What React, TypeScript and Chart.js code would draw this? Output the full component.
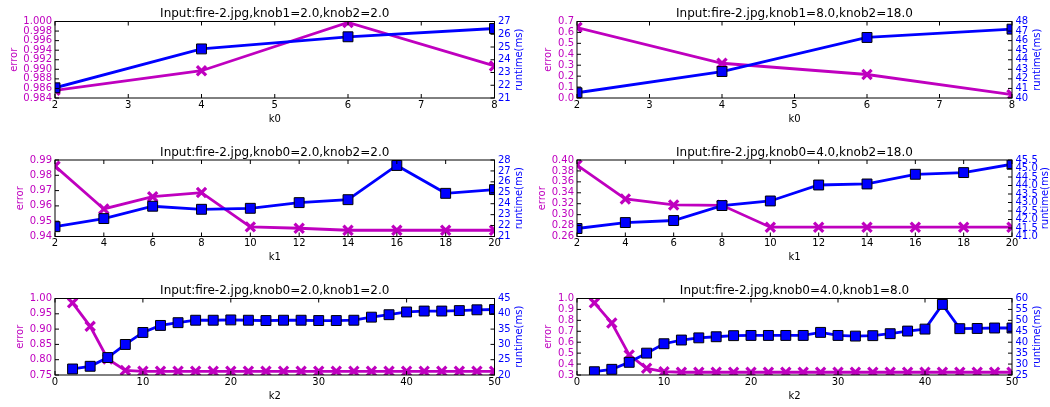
import React, { useEffect, useRef } from "react";
import { Chart, registerables } from "chart.js";

Chart.register(...registerables);

const FONT = "'DejaVu Sans', 'Liberation Sans', sans-serif";
const MAGENTA = "#bf00bf";
const BLUE = "#0000ff";

// ---------- data ----------
const panelTitles = [
  "Input:fire-2.jpg,knob1=2.0,knob2=2.0",
  "Input:fire-2.jpg,knob1=8.0,knob2=18.0",
  "Input:fire-2.jpg,knob0=2.0,knob2=2.0",
  "Input:fire-2.jpg,knob0=4.0,knob2=18.0",
  "Input:fire-2.jpg,knob0=2.0,knob1=2.0",
  "Input:fire-2.jpg,knob0=4.0,knob1=8.0",
];
const xTitles = ["k0", "k0", "k1", "k1", "k2", "k2"];
const errorLabel = "error";
const runtimeLabel = "runtime(ms)";

const k0Values = [2, 4, 6, 8];
const k1Values = [2, 4, 6, 8, 10, 12, 14, 16, 18, 20];
const k2Values = [2, 4, 6, 8, 10, 12, 14, 16, 18, 20, 22, 24, 26, 28, 30, 32, 34, 36, 38, 40, 42, 44, 46, 48, 50];

// panel 1: knob1=2, knob2=2 (vary k0)
const error1 = [0.9856, 0.9897, 0.9998, 0.9907];
const runtime1 = [21.8, 24.85, 25.8, 26.45];
// panel 2: knob1=8, knob2=18 (vary k0)
const error2 = [0.645, 0.318, 0.215, 0.03];
const runtime2 = [40.55, 42.77, 46.33, 47.2];
// panel 3: knob0=2, knob2=2 (vary k1)
const error3 = [0.986, 0.958, 0.966, 0.9687, 0.9463, 0.9454, 0.9441, 0.9441, 0.9441, 0.9441];
const runtime3 = [21.9, 22.64, 23.77, 23.49, 23.58, 24.1, 24.37, 27.5, 24.95, 25.29];
// panel 4: knob0=4, knob2=18 (vary k1)
const error4 = [0.3907, 0.3287, 0.3178, 0.3171, 0.277, 0.277, 0.277, 0.277, 0.277, 0.277];
const runtime4 = [41.47, 41.82, 41.94, 42.82, 43.09, 44.03, 44.09, 44.66, 44.76, 45.25];
// panel 5: knob0=2, knob1=2 (vary k2)
const error5 = [0.9857, 0.909, 0.8026, 0.765, 0.762, 0.762, 0.762, 0.762, 0.762, 0.762, 0.762, 0.762, 0.762, 0.762, 0.762, 0.762, 0.762, 0.762, 0.762, 0.762, 0.762, 0.762, 0.762, 0.762, 0.762];
const runtime5 = [21.97, 22.85, 25.7, 29.98, 33.9, 36.2, 37.1, 37.9, 37.9, 38.0, 37.9, 37.8, 37.9, 37.9, 37.8, 37.8, 37.9, 38.9, 39.7, 40.6, 40.9, 40.9, 41.05, 41.3, 41.4];
// panel 6: knob0=4, knob1=8 (vary k2)
const error6 = [0.96, 0.775, 0.484, 0.361, 0.33, 0.325, 0.325, 0.325, 0.325, 0.325, 0.325, 0.325, 0.325, 0.325, 0.325, 0.325, 0.325, 0.325, 0.325, 0.325, 0.325, 0.325, 0.325, 0.325, 0.325];
const runtime6 = [26.5, 27.6, 30.8, 35, 39.3, 41, 42, 42.5, 43, 43.1, 43.1, 43.1, 43.1, 44.5, 43.1, 42.8, 43, 43.9, 45.1, 46, 57.3, 46.2, 46.3, 46.5, 46.5];

// axis ticks: [min, max, step, decimals]
const xTicks1 = [2, 8, 1, 0];
const xTicks2 = [2, 20, 2, 0];
const xTicks3 = [0, 50, 10, 0];
const errTicks = [
  [0.984, 1.0, 0.002, 3],
  [0.0, 0.7, 0.1, 1],
  [0.94, 0.99, 0.01, 2],
  [0.26, 0.4, 0.02, 2],
  [0.75, 1.0, 0.05, 2],
  [0.3, 1.0, 0.1, 1],
];
const rtTicks = [
  [21, 27, 1, 0],
  [40, 48, 1, 0],
  [21, 28, 1, 0],
  [41, 45.5, 0.5, 1],
  [20, 45, 5, 0],
  [25, 60, 5, 0],
];

const panelX = [k0Values, k0Values, k1Values, k1Values, k2Values, k2Values];
const panelXTicks = [xTicks1, xTicks1, xTicks2, xTicks2, xTicks3, xTicks3];
const panelErr = [error1, error2, error3, error4, error5, error6];
const panelRt = [runtime1, runtime2, runtime3, runtime4, runtime5, runtime6];

// ---------- layout ----------
const COLS = [
  { canvasLeft: 0, canvasWidth: 540, plotLeft: 55, plotRight: 494.5 },
  { canvasLeft: 525, canvasWidth: 525, plotLeft: 577, plotRight: 1012 },
];
const ROWS = [
  { canvasTop: 0, padTop: 21.5 },
  { canvasTop: 138, padTop: 22 },
  { canvasTop: 277, padTop: 21.5 },
];
const CANVAS_H = 130;
const PLOT_H = 76.5;
const ERR_LABEL_X = [14, 548.7, 20.3, 542.3, 20.3, 548.7];
const RT_LABEL_X = [519.6, 1037, 519.6, 1045.5, 519.6, 1037];

const decorPlugin = {
  id: "decor",
  afterDatasetsDraw(chart: any, _args: any, opts: any) {
    const { ctx, chartArea: a, scales } = chart;
    const TL = 4;
    ctx.save();
    ctx.strokeStyle = "#000";
    ctx.lineWidth = 1;
    ctx.beginPath();
    for (const t of scales.x.ticks) {
      const px = scales.x.getPixelForValue(t.value);
      ctx.moveTo(px, a.bottom);
      ctx.lineTo(px, a.bottom - TL);
      ctx.moveTo(px, a.top);
      ctx.lineTo(px, a.top + TL);
    }
    for (const t of scales.yErr.ticks) {
      const py = scales.yErr.getPixelForValue(t.value);
      ctx.moveTo(a.left, py);
      ctx.lineTo(a.left + TL, py);
    }
    for (const t of scales.yRt.ticks) {
      const py = scales.yRt.getPixelForValue(t.value);
      ctx.moveTo(a.right, py);
      ctx.lineTo(a.right - TL, py);
    }
    ctx.stroke();
    ctx.strokeRect(a.left, a.top, a.right - a.left, a.bottom - a.top);

    const cx = (a.left + a.right) / 2;
    const cy = (a.top + a.bottom) / 2;
    ctx.fillStyle = "#000";
    ctx.textAlign = "center";
    ctx.textBaseline = "alphabetic";
    ctx.font = `12px ${FONT}`;
    ctx.fillText(opts.title, cx, a.top - 4.5);

    ctx.font = `10px ${FONT}`;
    ctx.textBaseline = "middle";
    ctx.fillText(opts.xTitle, cx, a.bottom + 21);

    ctx.save();
    ctx.translate(opts.errX, cy);
    ctx.rotate(-Math.PI / 2);
    ctx.fillStyle = MAGENTA;
    ctx.fillText(errorLabel, 0, 0);
    ctx.restore();

    ctx.save();
    ctx.translate(opts.rtX, cy);
    ctx.rotate(-Math.PI / 2);
    ctx.fillStyle = BLUE;
    ctx.fillText(runtimeLabel, 0, 0);
    ctx.restore();
    ctx.restore();
  },
};

function Panel({ idx }: { idx: number }) {
  const ref = useRef<HTMLCanvasElement | null>(null);
  const col = COLS[idx % 2];
  const row = ROWS[Math.floor(idx / 2)];

  useEffect(() => {
    if (!ref.current) return;
    const xs = panelX[idx];
    const [xMin, xMax, xStep] = panelXTicks[idx];
    const [eMin, eMax, eStep, eDec] = errTicks[idx];
    const [rMin, rMax, rStep, rDec] = rtTicks[idx];
    const leftW = col.plotLeft - col.canvasLeft;
    const rightW = col.canvasLeft + col.canvasWidth - col.plotRight;
    const bottomH = CANVAS_H - row.padTop - PLOT_H;
    const font = { family: FONT, size: 10 };

    const chart = new Chart(ref.current, {
      type: "line",
      data: {
        datasets: [
          {
            label: errorLabel,
            data: xs.map((x, i) => ({ x, y: panelErr[idx][i] })),
            yAxisID: "yErr",
            borderColor: MAGENTA,
            backgroundColor: MAGENTA,
            borderWidth: 2.8,
            pointStyle: "crossRot",
            pointRadius: 6.5,
            pointBorderWidth: 3.2,
            pointBorderColor: MAGENTA,
            pointBackgroundColor: MAGENTA,
            clip: 0,
            order: 1,
            tension: 0,
          },
          {
            label: runtimeLabel,
            data: xs.map((x, i) => ({ x, y: panelRt[idx][i] })),
            yAxisID: "yRt",
            borderColor: BLUE,
            backgroundColor: BLUE,
            borderWidth: 2.8,
            pointStyle: "rect",
            pointRadius: 7,
            pointBorderWidth: 1,
            pointBorderColor: "#000",
            pointBackgroundColor: BLUE,
            clip: 0,
            order: 0,
            tension: 0,
          },
        ],
      },
      options: {
        responsive: false,
        maintainAspectRatio: false,
        animation: false,
        devicePixelRatio: 1,
        events: [],
        layout: { padding: { top: row.padTop, left: 0, right: 0, bottom: 0 } },
        scales: {
          x: {
            type: "linear",
            position: "bottom",
            min: xMin,
            max: xMax,
            ticks: {
              stepSize: xStep,
              color: "#000",
              padding: 1,
              autoSkip: false,
              maxRotation: 0,
              minRotation: 0,
              font,
            },
            grid: { display: false, drawTicks: false },
            border: { display: false },
            afterFit: (s: any) => {
              s.height = bottomH;
            },
          },
          yErr: {
            type: "linear",
            position: "left",
            min: eMin,
            max: eMax,
            ticks: {
              stepSize: eStep,
              color: MAGENTA,
              padding: 3,
              autoSkip: false,
              font,
              callback: (v: any) => Number(v).toFixed(eDec),
            },
            grid: { display: false, drawTicks: false },
            border: { display: false },
            afterFit: (s: any) => {
              s.width = leftW;
            },
          },
          yRt: {
            type: "linear",
            position: "right",
            min: rMin,
            max: rMax,
            ticks: {
              stepSize: rStep,
              color: BLUE,
              padding: 3.5,
              autoSkip: false,
              font,
              callback: (v: any) => Number(v).toFixed(rDec),
            },
            grid: { display: false, drawTicks: false },
            border: { display: false },
            afterFit: (s: any) => {
              s.width = rightW;
            },
          },
        },
        plugins: {
          legend: { display: false },
          tooltip: { enabled: false },
          decor: {
            title: panelTitles[idx],
            xTitle: xTitles[idx],
            errX: ERR_LABEL_X[idx] - col.canvasLeft,
            rtX: RT_LABEL_X[idx] - col.canvasLeft,
          },
        } as any,
      },
      plugins: [decorPlugin as any],
    });
    return () => chart.destroy();
  }, [idx]);

  return (
    <canvas
      ref={ref}
      width={col.canvasWidth}
      height={CANVAS_H}
      style={{
        position: "absolute",
        left: col.canvasLeft,
        top: row.canvasTop,
        width: col.canvasWidth,
        height: CANVAS_H,
      }}
    />
  );
}

export default function App() {
  return (
    <div
      style={{
        position: "fixed",
        left: 0,
        top: 0,
        width: 1050,
        height: 407,
        overflow: "hidden",
        background: "#fff",
      }}
    >
      {[0, 1, 2, 3, 4, 5].map((i) => (
        <Panel key={i} idx={i} />
      ))}
    </div>
  );
}
